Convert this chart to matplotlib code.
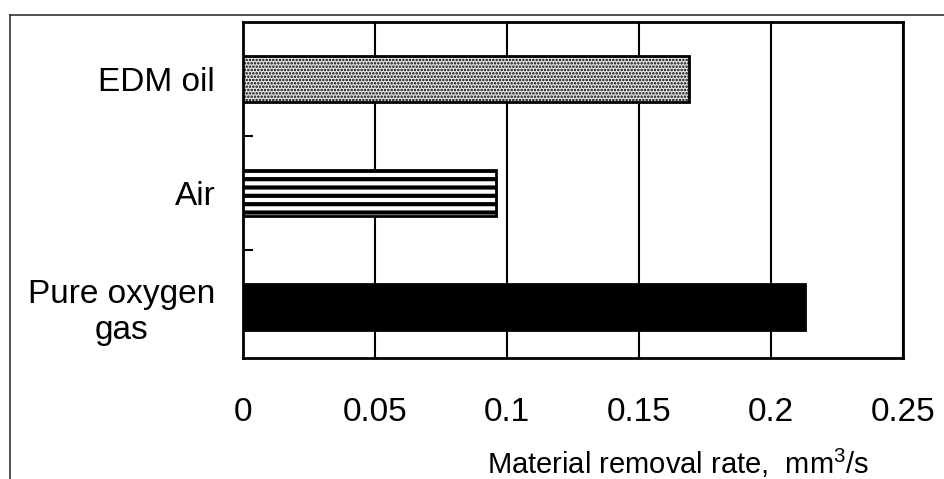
import matplotlib
matplotlib.use("Agg")
import matplotlib.pyplot as plt
from matplotlib.lines import Line2D

# Data (bottom to top)
categories = ["Pure oxygen\ngas", "Air", "EDM oil"]
removal_rate = [0.213, 0.096, 0.169]
x_ticks = [0, 0.05, 0.1, 0.15, 0.2, 0.25]
x_tick_labels = ["0", "0.05", "0.1", "0.15", "0.2", "0.25"]

plt.rcParams["font.family"] = ["Liberation Sans", "DejaVu Sans"]
plt.rcParams["mathtext.default"] = "regular"

fig = plt.figure(figsize=(9.45, 4.79), dpi=100)
ax = fig.add_axes([243 / 945, 1 - 358 / 479, 660 / 945, 336 / 479])

faces = ["black", "white", "#e4e4e4"]
hatches = [None, "--", "....."]
hatch_lw = [1.0, 3.0, 1.2]
bars = ax.barh(range(len(categories)), removal_rate, height=0.4,
               color=faces, edgecolor="black", linewidth=2, zorder=3)
for b, h, lw in zip(bars, hatches, hatch_lw):
    if h:
        b.set_hatch(h)
        if hasattr(b, "set_hatch_linewidth"):
            b.set_hatch_linewidth(lw)

ax.set_xlim(0, 0.25)
ax.set_ylim(-0.45, 2.5)
ax.set_xticks(x_ticks)
ax.set_xticklabels(x_tick_labels)
ax.set_yticks(range(len(categories)))
ax.set_yticklabels(categories, ha="right", multialignment="center")
ax.set_yticks([0.5, 1.5], minor=True)

ax.grid(axis="x", color="black", linewidth=1.5, zorder=0)
ax.tick_params(axis="x", length=0, pad=28, labelsize=24)
ax.tick_params(axis="y", which="major", length=0, pad=20, labelsize=24)
ax.tick_params(axis="y", which="minor", direction="in", length=7, width=1.5)
for s in ax.spines.values():
    s.set_linewidth(2)

ax.set_xlabel("Material removal rate,  mm$^3$/s", fontsize=21)
ax.xaxis.set_label_coords(0.66, -0.265)
ax.xaxis.label.set_va("top")

# outer frame lines of the scanned figure
fig.add_artist(Line2D([10 / 945, 1], [1 - 15 / 479, 1 - 15 / 479],
                      color="#333333", linewidth=1.2, transform=fig.transFigure))
fig.add_artist(Line2D([10 / 945, 10 / 945], [0, 1 - 15 / 479],
                      color="#333333", linewidth=1.2, transform=fig.transFigure))

fig.savefig("out.png", dpi=100)
